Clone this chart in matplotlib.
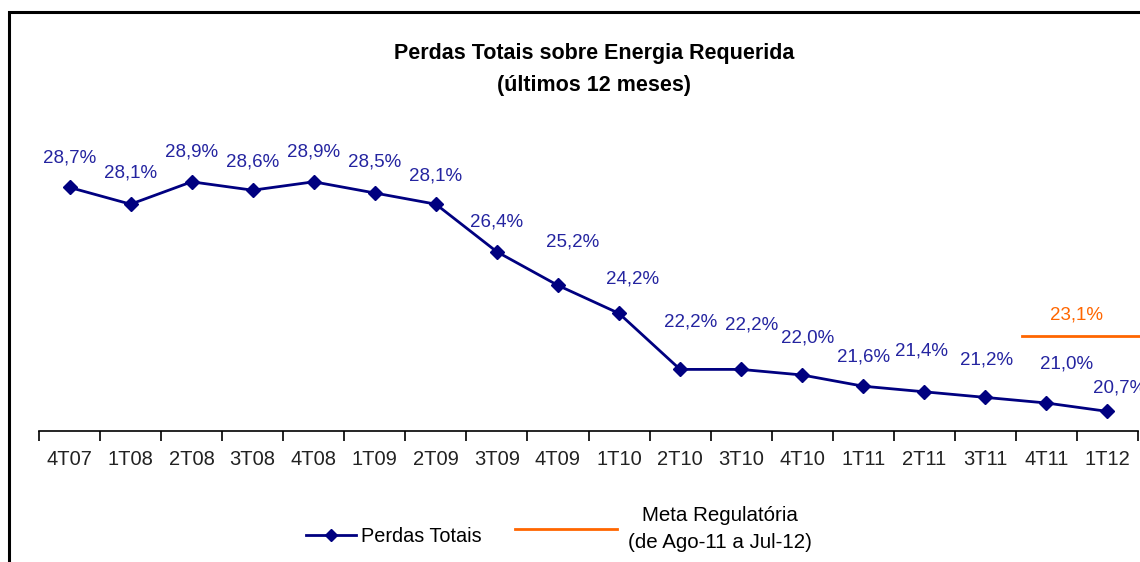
import matplotlib
matplotlib.use('Agg')
import matplotlib.pyplot as plt
from matplotlib.lines import Line2D
from matplotlib.patches import Rectangle

plt.rcParams['font.family'] = ['Liberation Sans', 'DejaVu Sans']

# data
quarters = ['4T07', '1T08', '2T08', '3T08', '4T08', '1T09', '2T09', '3T09', '4T09',
            '1T10', '2T10', '3T10', '4T10', '1T11', '2T11', '3T11', '4T11', '1T12']
perdas = [28.7, 28.1, 28.9, 28.6, 28.9, 28.5, 28.1, 26.4, 25.2,
          24.2, 22.2, 22.2, 22.0, 21.6, 21.4, 21.2, 21.0, 20.7]
meta = 23.1
meta_span = [15.6, 17.6]   # Ago-11 .. Jul-12 on the category axis

# label nudges in pixels (dx, dy) relative to each point
nudges = [(0, 29), (0, 31), (0, 30), (0, 28), (0, 30), (0, 31), (0, 28), (0, 30), (15, 43),
          (14, 34), (11, 47), (10, 44), (5, 37), (0, 29), (-3, 41), (1, 37), (20, 39), (12, 23)]

fig = plt.figure(figsize=(11.4, 5.62), dpi=100)
ax = fig.add_axes([39 / 1140, 131 / 562, 1099 / 1140, 371 / 562])
x = list(range(len(quarters)))

ax.plot(x, perdas, color='#000080', lw=2, marker='D', markersize=7, zorder=3)
ax.set_xlim(-0.5, len(quarters) - 0.5)
ax.set_ylim(20, 20 + 371 / 28)

for xi, v, (dx, dy) in zip(x, perdas, nudges):
    ax.annotate(f'{v:.1f}%'.replace('.', ','), (xi, v), xytext=(dx * 0.72, dy * 0.72),
                textcoords='offset points', ha='center', va='center',
                fontsize=13.5, color='#2424A0', annotation_clip=False)

# meta regulatoria sits on a secondary scale
ax2 = ax.twinx()
ax2.set_ylim(20, 20 + 3.1 / (95 / 371))
ax2.plot(meta_span, [meta, meta], color='#FF6600', lw=2, clip_on=False)
ax2.annotate(f'{meta:.1f}%'.replace('.', ','), (16.5, meta), xytext=(0, 15),
             textcoords='offset points', ha='center', va='center',
             fontsize=13.5, color='#FF6600')
ax2.set_xlim(-0.5, len(quarters) - 0.5)
ax2.axis('off')

for s in ['top', 'left', 'right']:
    ax.spines[s].set_visible(False)
ax.spines['bottom'].set_linewidth(1.2)
ax.set_yticks([])
ax.set_xticks([i - 0.5 for i in range(len(quarters) + 1)], minor=False)
ax.set_xticklabels([])
ax.tick_params(axis='x', which='major', length=7, width=1.2, direction='out')
ax.set_xticks(x, minor=True)
ax.set_xticklabels(quarters, minor=True, fontsize=14.5, color='#222222')
ax.tick_params(axis='x', which='minor', length=0, pad=14)

fig.text(594 / 1140, 1 - 54 / 562, 'Perdas Totais sobre Energia Requerida',
         ha='center', va='center', fontsize=15.5, fontweight='bold')
fig.text(594 / 1140, 1 - 85 / 562, '(últimos 12 meses)',
         ha='center', va='center', fontsize=15.5, fontweight='bold')

# legend, two pieces since the handles differ in length
h1 = Line2D([], [], color='#000080', lw=2, marker='D', markersize=6)
h2 = Line2D([], [], color='#FF6600', lw=2)
leg1 = fig.legend([h1], ['Perdas Totais'], loc='center left',
                  bbox_to_anchor=(288 / 1140, 1 - 536 / 562), frameon=False,
                  fontsize=14.3, handlelength=2.5, handletextpad=0.3)
leg2 = fig.legend([h2], ['Meta Regulatória\n(de Ago-11 a Jul-12)'], loc='center left',
                  bbox_to_anchor=(496 / 1140, 1 - 529 / 562), frameon=False,
                  fontsize=14.8, handlelength=5, handletextpad=0.5)
leg2.get_texts()[0].set_multialignment('center')
leg2.get_texts()[0].set_linespacing(1.55)

# outer frame (only top and left edges visible)
fig.add_artist(Rectangle((9 / 1140, -0.2), 1.2, 1.2 - 12 / 562, fill=False,
                         edgecolor='black', lw=2.2, transform=fig.transFigure))

fig.savefig('out.png', dpi=100)
